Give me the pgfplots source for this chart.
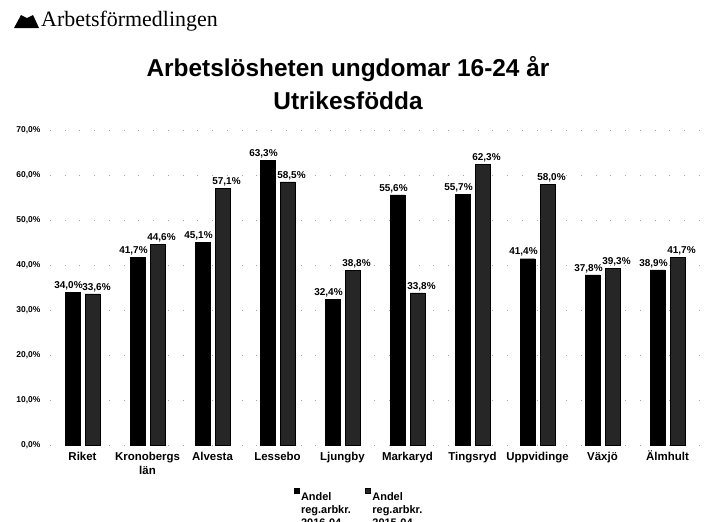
\documentclass[border=0pt]{standalone}
\usepackage{pgfplots}
\pgfplotsset{compat=1.18}
\usepackage{fontspec}
\setmainfont{Liberation Sans}
\newfontfamily\logofont{Liberation Serif}
\begin{document}
\begin{tikzpicture}
\path[use as bounding box] (0bp,0bp) rectangle (707bp,-522bp);
% logo
\fill (14bp,-28bp) -- (21bp,-15bp) -- (27bp,-18bp) -- (33bp,-15bp) -- (39bp,-28bp) -- cycle;
\node[anchor=west,inner sep=0pt,font=\logofont\fontsize{22}{22}\selectfont] at (41bp,-21bp) {Arbetsförmedlingen};
\node[align=center,inner sep=0pt,font=\bfseries\fontsize{24.5}{33}\selectfont] at (348bp,-83bp) {Arbetslösheten ungdomar 16-24 år\\Utrikesfödda};
\begin{axis}[
  at={(50bp,-445bp)}, anchor=south west,
  scale only axis, width=650bp, height=315bp,
  ybar=5bp, bar width=15bp,
  xmin=-0.5, xmax=9.5, ymin=0, ymax=70,
  xtick=data,
  xticklabels={\rule{0pt}{11bp}Riket,{\rule{0pt}{11bp}Kronobergs\\län},\rule{0pt}{11bp}Alvesta,\rule{0pt}{11bp}Lessebo,\rule{0pt}{11bp}Ljungby,\rule{0pt}{11bp}Markaryd,\rule{0pt}{11bp}Tingsryd,\rule{0pt}{11bp}Uppvidinge,\rule{0pt}{11bp}Växjö,\rule{0pt}{11bp}Älmhult},
  xticklabel style={align=center,anchor=north,font=\bfseries\fontsize{11.5}{14}\selectfont,yshift=-1bp},
  ytick={0,10,...,70},
  yticklabel={\pgfmathprintnumber[fixed,fixed zerofill,precision=1,use comma]{\tick}\%},
  /pgf/number format/assume math mode=true,
  yticklabel style={font=\bfseries\fontsize{8.5}{10}\selectfont,xshift=-6bp},
  axis line style={draw=none},
  major tick length=0pt,
  ymajorgrids, major grid style={gray!70, dash pattern=on 0.8pt off 14pt},
  nodes near coords={\pgfmathprintnumber[fixed,fixed zerofill,precision=1,use comma]{\pgfplotspointmeta}\%},
  nodes near coords style={font=\bfseries\fontsize{10}{12}\selectfont, inner sep=2pt},
  legend style={at={(0.37,-0.13)}, anchor=north west, draw=none, legend columns=2,
    font=\bfseries\fontsize{11}{13}\selectfont, cells={align=left, anchor=north west},
    /tikz/every even column/.append style={column sep=12bp}},
  legend image code/.code={\draw[#1] (0bp,-3bp) rectangle (5bp,2bp);},
]
\addplot[fill=black, draw=black, nodes near coords style={xshift=-4bp}] coordinates {(0,34.0) (1,41.7) (2,45.1) (3,63.3) (4,32.4) (5,55.6) (6,55.7) (7,41.4) (8,37.8) (9,38.9)};
\addplot[fill=black!85, draw=black, nodes near coords style={xshift=4bp}] coordinates {(0,33.6) (1,44.6) (2,57.1) (3,58.5) (4,38.8) (5,33.8) (6,62.3) (7,58.0) (8,39.3) (9,41.7)};
\legend{{Andel\\reg.arbkr.\\2016-04},{Andel\\reg.arbkr.\\2015-04}}
\end{axis}
\end{tikzpicture}
\end{document}
